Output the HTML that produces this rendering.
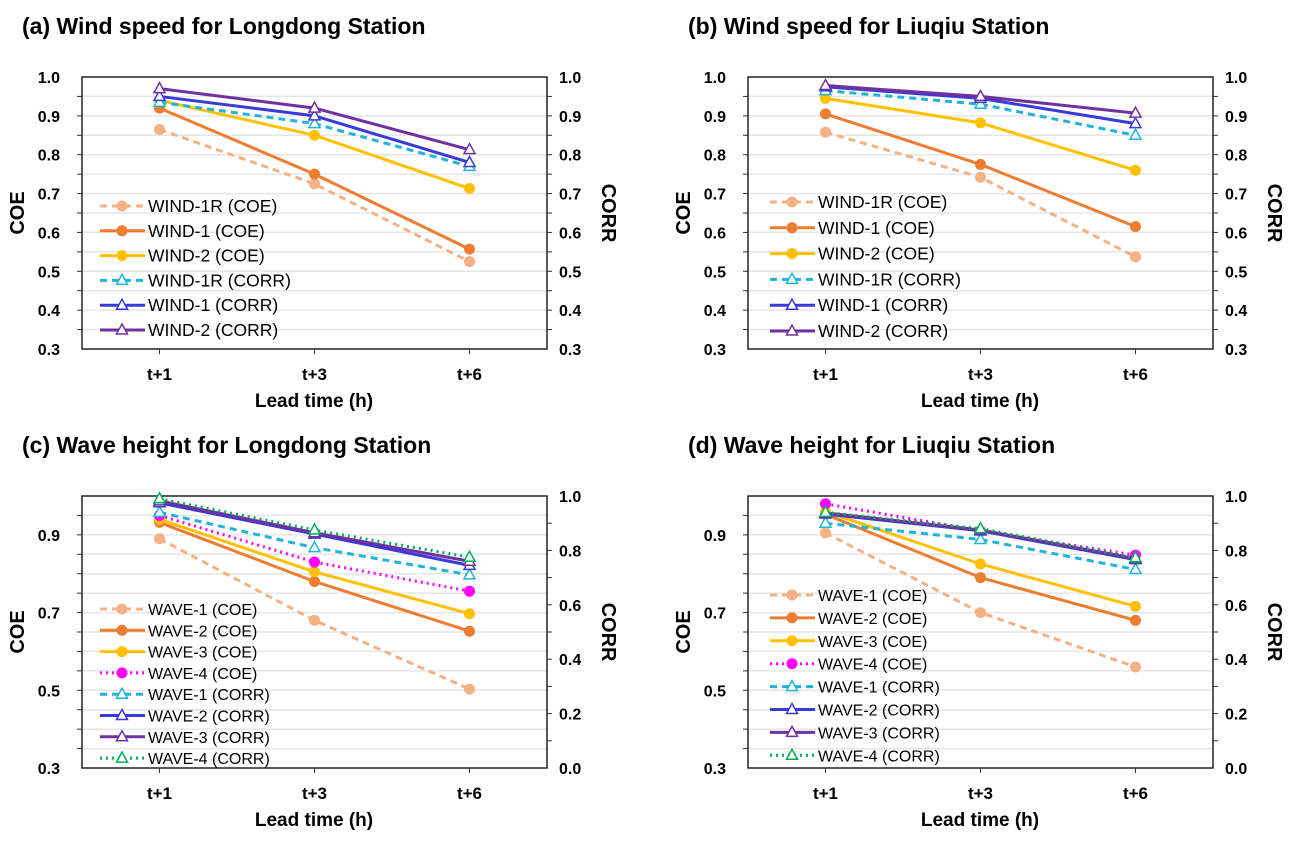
<!DOCTYPE html>
<html><head><meta charset="utf-8"><style>
html,body{margin:0;padding:0;background:#fff;}
svg{display:block;font-family:"Liberation Sans",Arial,sans-serif;}
</style></head><body>
<svg id="c" width="1293" height="843" viewBox="0 0 1293 843" xmlns="http://www.w3.org/2000/svg"></svg>
<script>
const categories = ["t+1","t+3","t+6"];
// Panel (a)
const aNames = ["WIND-1R (COE)","WIND-1 (COE)","WIND-2 (COE)","WIND-1R (CORR)","WIND-1 (CORR)","WIND-2 (CORR)"];
const aWind1rCoe = [0.865,0.725,0.525];
const aWind1Coe = [0.92,0.75,0.557];
const aWind2Coe = [0.94,0.85,0.713];
const aWind1rCorr = [0.935,0.88,0.77];
const aWind1Corr = [0.95,0.90,0.78];
const aWind2Corr = [0.97,0.92,0.813];
// Panel (b)
const bWind1rCoe = [0.858,0.742,0.537];
const bWind1Coe = [0.905,0.775,0.615];
const bWind2Coe = [0.945,0.882,0.76];
const bWind1rCorr = [0.965,0.93,0.85];
const bWind1Corr = [0.975,0.945,0.88];
const bWind2Corr = [0.978,0.95,0.907];
// Panel (c)
const cNames = ["WAVE-1 (COE)","WAVE-2 (COE)","WAVE-3 (COE)","WAVE-4 (COE)","WAVE-1 (CORR)","WAVE-2 (CORR)","WAVE-3 (CORR)","WAVE-4 (CORR)"];
const cWave1Coe = [0.89,0.68,0.503];
const cWave2Coe = [0.932,0.78,0.652];
const cWave3Coe = [0.94,0.805,0.697];
const cWave4Coe = [0.95,0.83,0.755];
const cWave1Corr = [0.94,0.81,0.71];
const cWave2Corr = [0.975,0.86,0.745];
const cWave3Corr = [0.982,0.865,0.76];
const cWave4Corr = [0.99,0.875,0.775];
// Panel (d)
const dWave1Coe = [0.905,0.70,0.56];
const dWave2Coe = [0.953,0.79,0.68];
const dWave3Coe = [0.96,0.825,0.716];
const dWave4Coe = [0.98,0.91,0.848];
const dWave1Corr = [0.90,0.84,0.73];
const dWave2Corr = [0.934,0.872,0.766];
const dWave3Corr = [0.938,0.875,0.77];
const dWave4Corr = [0.94,0.88,0.773];
// tick labels
const windTicks = ["0.3","0.4","0.5","0.6","0.7","0.8","0.9","1.0"];
const waveCoeTicks = ["0.3","0.5","0.7","0.9"];
const waveCorrTicks = ["0.0","0.2","0.4","0.6","0.8","1.0"];

const NS="http://www.w3.org/2000/svg";
const svg=document.getElementById('c');
function mk(tag,attrs,parent){const e=document.createElementNS(NS,tag);for(const k in attrs)e.setAttribute(k,attrs[k]);(parent||svg).appendChild(e);return e;}

const styles=[
 {c:"#F4B183",d:"7,5",m:"circle"},{c:"#ED7D31",d:"",m:"circle"},{c:"#FFC000",d:"",m:"circle"},
 {c:"#FF00FF",d:"2,4",m:"circle"},
 {c:"#1FB4D8",d:"7,5",m:"tri"},{c:"#3A3AD8",d:"",m:"tri"},{c:"#7030A0",d:"",m:"tri"},{c:"#00B050",d:"2,4",m:"tri"}
];

function panel(p){
  const g=mk('g',{});
  
  
  const L=p.x, R=p.x+465, T=p.y, B=p.y+272;
  const yL=v=>B-(v-0.3)/0.7*(B-T);
  const yR=p.wind?yL:(v=>B-v*(B-T));
  const xS=i=>L+77.5+i*155;
  const t=mk('text',{x:p.x-60,y:p.y-43,'font-size':23,'font-weight':'bold',fill:'#000'},g);t.textContent=p.title;
  
  for(let k=1;k<14;k++){const v=0.3+k*0.05;const y=yL(v);mk('line',{x1:L,x2:R,y1:y,y2:y,stroke:'#e6e6e6','stroke-width':1.5},g);
    mk('line',{x1:L-5,x2:L,y1:y,y2:y,stroke:'#333','stroke-width':1},g);}
  if(!p.wind){for(let k=1;k<10;k++){const y=yR(k*0.1);mk('line',{x1:R,x2:R+5,y1:y,y2:y,stroke:'#333'},g);}}
  else{for(let k=1;k<14;k++){const y=yL(0.3+k*0.05);mk('line',{x1:R,x2:R+5,y1:y,y2:y,stroke:'#333'},g);}}
  mk('rect',{x:L,y:T,width:465,height:272,fill:'none',stroke:'#222','stroke-width':1.5},g);
  categories.forEach((c,i)=>{mk('line',{x1:xS(i),x2:xS(i),y1:B,y2:B+5,stroke:'#333'},g);
    const tx=mk('text',{x:xS(i),y:B+31,'text-anchor':'middle','font-size':17,'font-weight':'bold'},g);tx.textContent=c;
    });
  const xt=mk('text',{x:L+232,y:B+58,'text-anchor':'middle','font-size':19,'font-weight':'bold'},g);xt.textContent="Lead time (h)";
  
  const lt=p.wind?windTicks:waveCoeTicks;
  lt.forEach(s=>{const e=mk('text',{x:L-22,y:yL(parseFloat(s))+6,'text-anchor':'end','font-size':16,'font-weight':'bold'},g);e.textContent=s;
    });
  const rt=p.wind?windTicks:waveCorrTicks;
  rt.forEach(s=>{const e=mk('text',{x:R+12,y:yR(parseFloat(s))+6,'font-size':16,'font-weight':'bold'},g);e.textContent=s;
    });
  const yt=mk('text',{x:0,y:0,transform:`translate(${L-58},${(T+B)/2}) rotate(-90)`,'text-anchor':'middle','font-size':20,'font-weight':'bold'},g);yt.textContent="COE";
  
  const yt2=mk('text',{x:0,y:0,transform:`translate(${R+55},${(T+B)/2}) rotate(90)`,'text-anchor':'middle','font-size':20,'font-weight':'bold'},g);yt2.textContent="CORR";
  
  p.series.forEach((s,si)=>{
    const st=styles[s.st];const sc=s.corr?yR:yL;
    const pts=s.v.map((v,i)=>xS(i)+','+sc(v)).join(' ');
    const pl=mk('polyline',{points:pts,fill:'none',stroke:st.c,'stroke-width':3,'stroke-dasharray':st.d},g);
    
    s.v.forEach((v,i)=>marker(g,st,xS(i),sc(v)));
    const ly=p.ly+si*p.ls, lx=p.lx;
    mk('line',{x1:lx,x2:lx+45,y1:ly,y2:ly,stroke:st.c,'stroke-width':3,'stroke-dasharray':st.d},g);
    marker(g,st,lx+22,ly);
    const lt=mk('text',{x:lx+48,y:ly+6,'font-size':p.fs},g);lt.textContent=s.n;
    
  });
}
function marker(g,st,x,y){
  if(st.m==='circle'){mk('circle',{cx:x,cy:y,r:5.5,fill:st.c},g);}
  else{mk('path',{d:`M${x},${y-6} L${x+5.5},${y+4} L${x-5.5},${y+4} Z`,fill:'#fff',stroke:st.c,'stroke-width':1.5},g);}
}
panel({id:'panel-a',title:'(a) Wind speed for Longdong Station',x:82,y:77,wind:true,lx:100,ly:206,ls:24.8,fs:17.5,
 series:[{n:aNames[0],v:aWind1rCoe,st:0},{n:aNames[1],v:aWind1Coe,st:1},{n:aNames[2],v:aWind2Coe,st:2},
 {n:aNames[3],v:aWind1rCorr,st:4,corr:1},{n:aNames[4],v:aWind1Corr,st:5,corr:1},{n:aNames[5],v:aWind2Corr,st:6,corr:1}]});
panel({id:'panel-b',title:'(b) Wind speed for Liuqiu Station',x:748,y:77,wind:true,lx:770,ly:202,ls:25.8,fs:17.5,
 series:[{n:aNames[0],v:bWind1rCoe,st:0},{n:aNames[1],v:bWind1Coe,st:1},{n:aNames[2],v:bWind2Coe,st:2},
 {n:aNames[3],v:bWind1rCorr,st:4,corr:1},{n:aNames[4],v:bWind1Corr,st:5,corr:1},{n:aNames[5],v:bWind2Corr,st:6,corr:1}]});
panel({id:'panel-c',title:'(c) Wave height for Longdong Station',x:82,y:496,wind:false,lx:100,ly:609,ls:21.3,fs:16,
 series:[{n:cNames[0],v:cWave1Coe,st:0},{n:cNames[1],v:cWave2Coe,st:1},{n:cNames[2],v:cWave3Coe,st:2},{n:cNames[3],v:cWave4Coe,st:3},
 {n:cNames[4],v:cWave1Corr,st:4,corr:1},{n:cNames[5],v:cWave2Corr,st:5,corr:1},{n:cNames[6],v:cWave3Corr,st:6,corr:1},{n:cNames[7],v:cWave4Corr,st:7,corr:1}]});
panel({id:'panel-d',title:'(d) Wave height for Liuqiu Station',x:748,y:496,wind:false,lx:770,ly:595,ls:22.9,fs:16,
 series:[{n:cNames[0],v:dWave1Coe,st:0},{n:cNames[1],v:dWave2Coe,st:1},{n:cNames[2],v:dWave3Coe,st:2},{n:cNames[3],v:dWave4Coe,st:3},
 {n:cNames[4],v:dWave1Corr,st:4,corr:1},{n:cNames[5],v:dWave2Corr,st:5,corr:1},{n:cNames[6],v:dWave3Corr,st:6,corr:1},{n:cNames[7],v:dWave4Corr,st:7,corr:1}]});
</script>
</body></html>
